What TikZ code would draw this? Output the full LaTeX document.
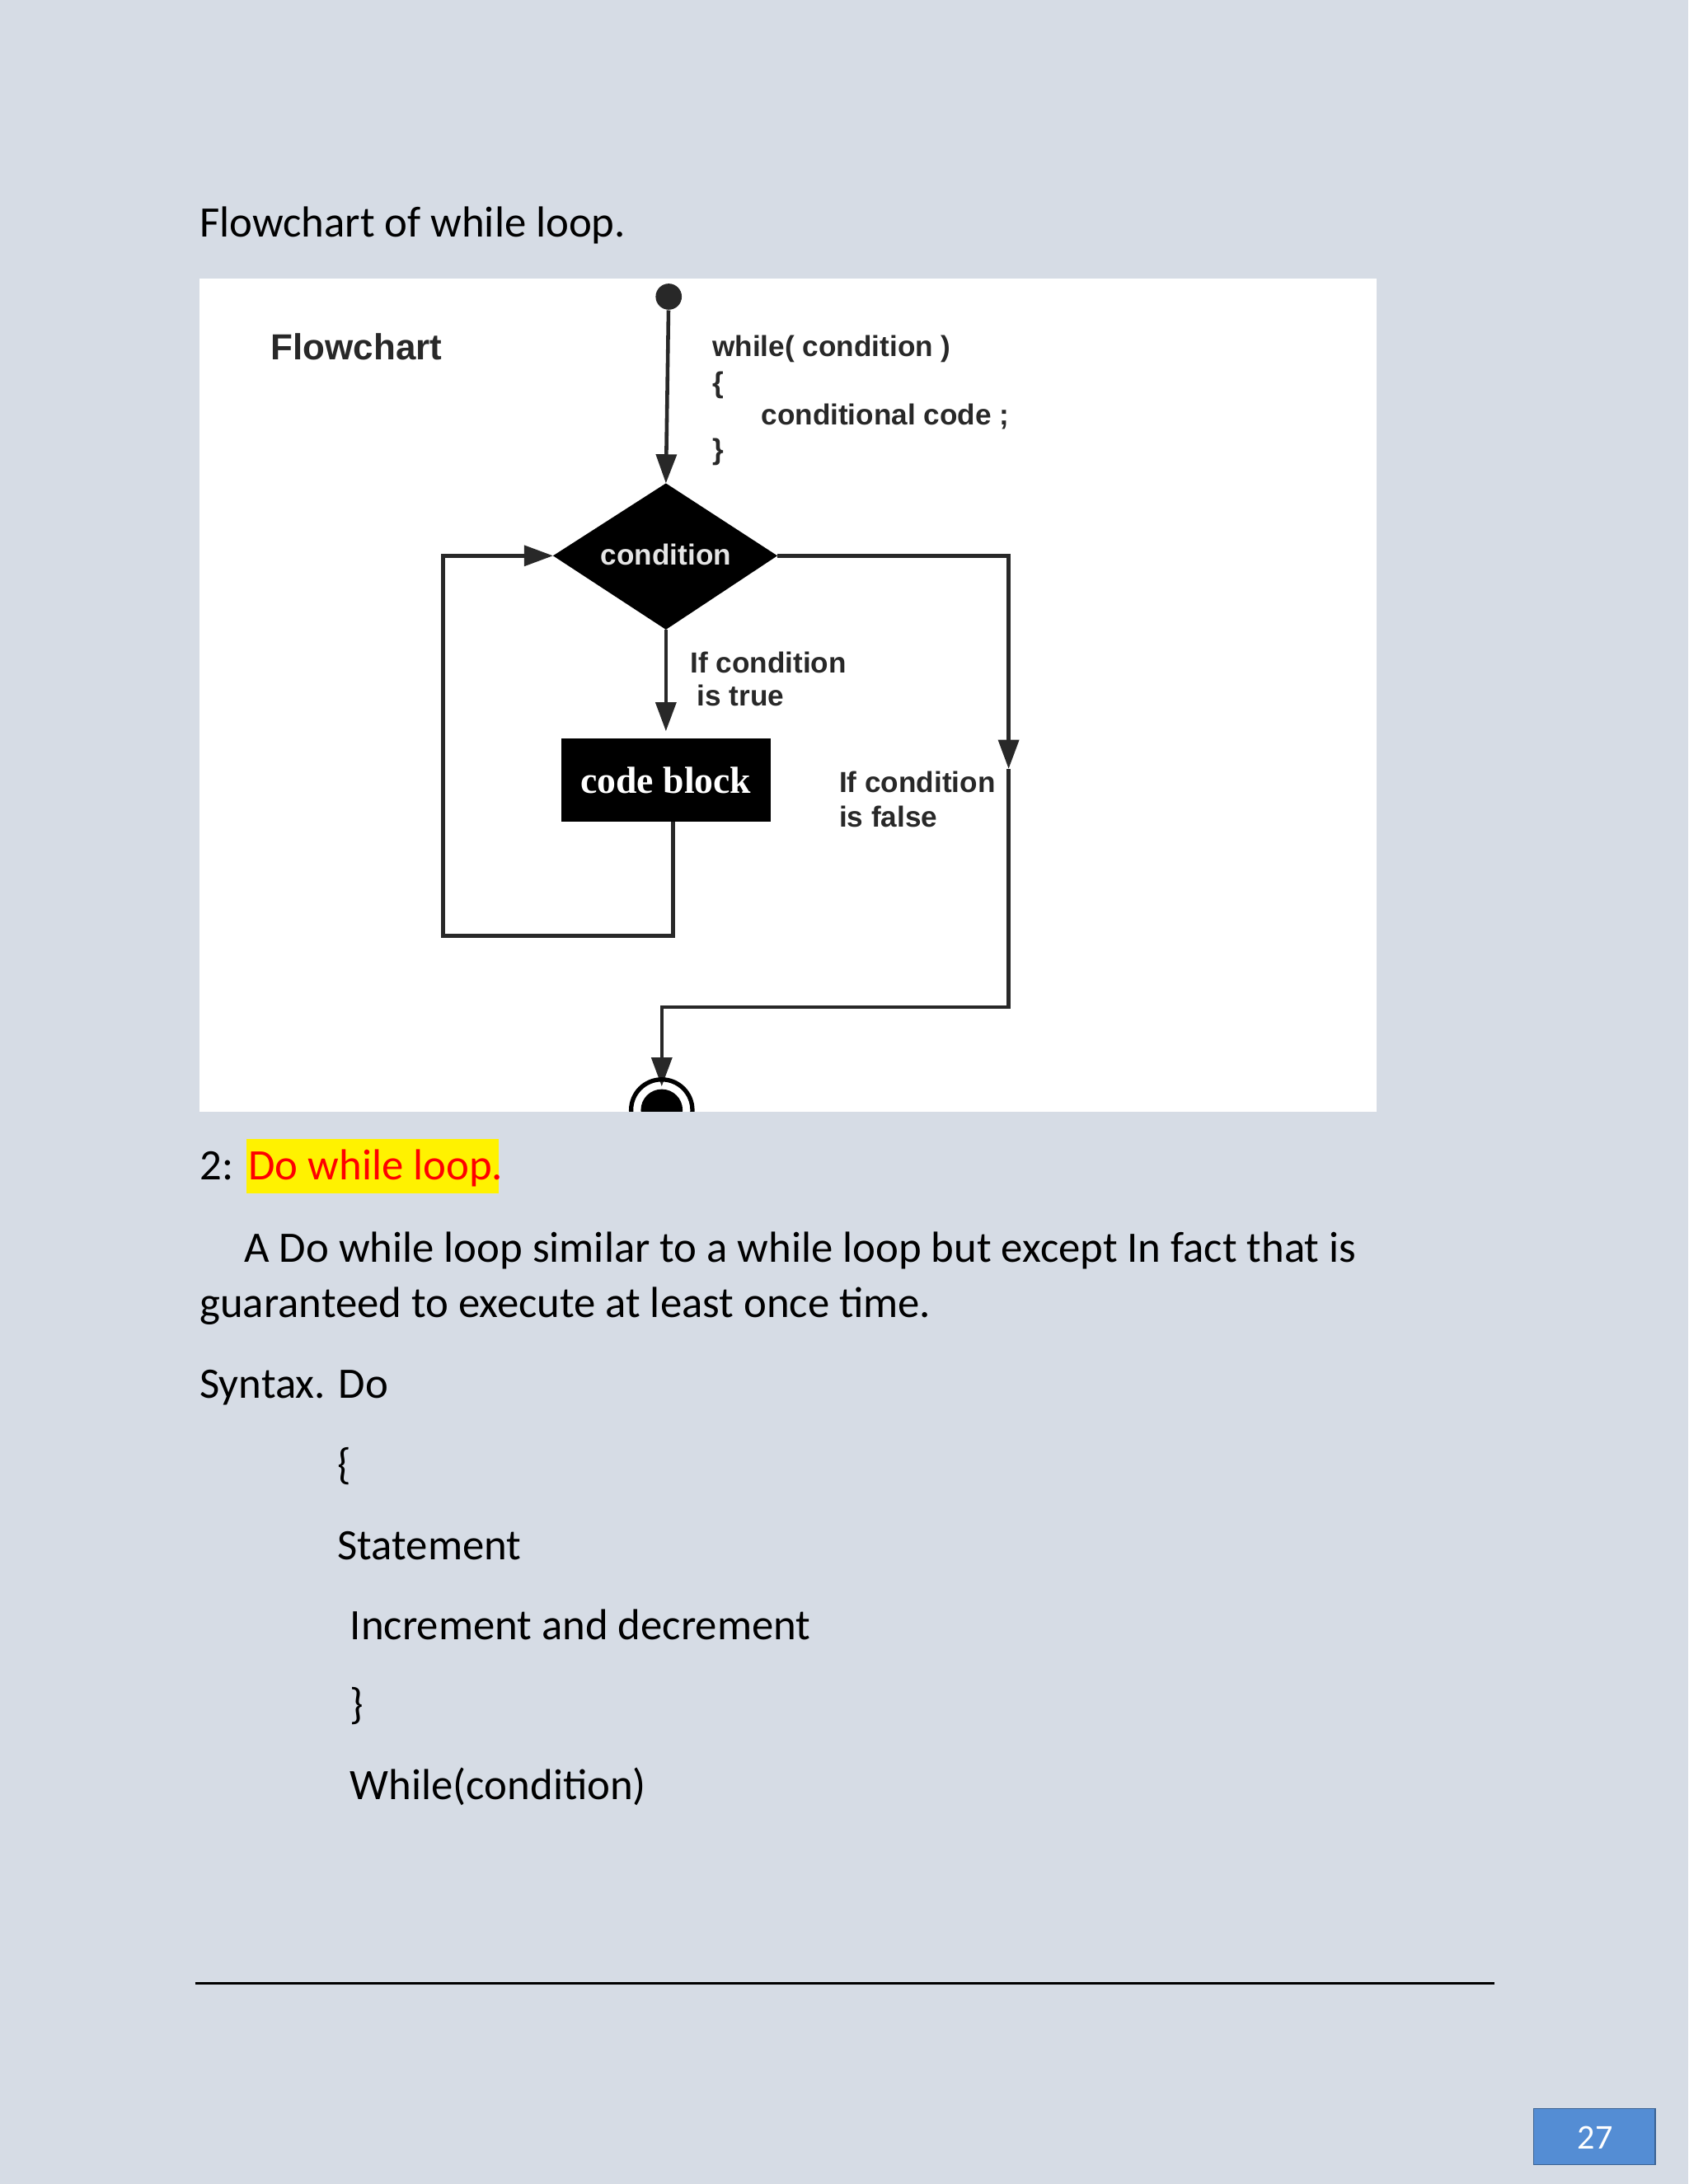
\documentclass[tikz,border=0pt]{standalone}
\usepackage{fontspec}
\setmainfont{Carlito}
\newfontfamily\arial{Liberation Sans}
\newfontfamily\narrow{Liberation Serif}
\usetikzlibrary{arrows.meta}
\definecolor{pagebg}{RGB}{214,220,229}
\definecolor{numblue}{RGB}{84,141,212}
\definecolor{flowgray}{RGB}{40,40,40}
\tikzset{
  body/.style={anchor=base west,inner sep=0pt,font=\fontsize{15}{18}\selectfont},
  fl/.style={anchor=base west,inner sep=0pt,font=\arial\bfseries\fontsize{10}{12}\selectfont,text=flowgray},
  wire/.style={draw=flowgray,line width=1.3pt},
  arr/.style={wire,-{Triangle[length=10pt,width=7pt]}}
}
\begin{document}
\begin{tikzpicture}[x=0.016898cm,y=-0.016898cm]
\fill[pagebg] (0,0) rectangle (1212,1568);
\useasboundingbox (0,0) rectangle (1212,1568);
\node[body] (t1) at (143,170) {Flowchart of while loop.};
\fill[white] (143,200) rectangle (988,798);
\begin{scope}
\clip (143,200) rectangle (988,798);
\node[fl,font=\arial\bfseries\fontsize{12.5}{14}\selectfont] (fc) at (194,258) {Flowchart};
\node[fl] (w1) at (511,256) {while( condition )};
\node[fl] (w2) at (511,282) {\{};
\node[fl] (w3) at (546,305) {conditional code ;};
\node[fl] (w4) at (511,330) {\}};
\node[fl] (l1) at (495,483) {If condition};
\node[fl] (l2) at (500,507) {is true};
\node[fl] (l3) at (602,569) {If condition};
\node[fl] (l4) at (602,594) {is false};
\node[circle,fill=flowgray,minimum size=18pt*0.5,inner sep=0pt] (start) at (480,213) {};
\path[fill=black] (478,347) -- (558,399) -- (478,452) -- (397,399) -- cycle;
\coordinate (dt) at (478,347); \coordinate (db) at (478,452);
\coordinate (dl) at (397,399); \coordinate (dr) at (558,399);
\node[text=white!80!gray,font=\arial\bfseries\fontsize{10}{12}\selectfont] (cond) at (478,398) {condition};
\node[fill=black,minimum width=150*0.016898cm,minimum height=60*0.016898cm,inner sep=0pt,text=white,font=\narrow\bfseries\fontsize{13}{15}\selectfont] (cb) at (478,560) {code block};
\draw[arr] (start) -- (dt);
\draw[arr] (db) -- (478,525);
\draw[arr] (483,590) -- (483,672) -- (318,672) -- (318,399) -- (dl);
\draw[arr] (dr) -- (724,399) -- (724,552);
\draw[arr] (724,552) -- (724,723) -- (475,723) -- (475,780);
\node[circle,draw=black,line width=1.5pt,minimum size=44*0.016898cm,inner sep=0pt] (endo) at (475,797) {};
\fill[black] (475,797) circle (15);
\end{scope}
\fill[yellow] (177,818) rectangle (358,857);
\node[body] (n2) at (143,847) {2:};
\node[body,text=red] (dw) at (178,847) {Do while loop.};
\node[body] (p1) at (175,906) {A Do while loop similar to a while loop but except In fact that is};
\node[body] (p2) at (143,946) {guaranteed to execute at least once time.};
\node[body] (s1) at (143,1004) {Syntax. Do};
\node[body] (s2) at (242,1062) {\{};
\node[body] (s3) at (242,1120) {Statement};
\node[body] (s4) at (251,1177) {Increment and decrement};
\node[body] (s5) at (251,1234) {\}};
\node[body] (s6) at (251,1292) {While(condition)};
\draw[black,line width=0.8pt] (140,1424) -- (1073,1424);
\draw[fill=numblue,draw=numblue!70!black] (1101,1514) rectangle (1188,1554);
\node[text=white,font=\fontsize{12}{14}\selectfont] (pn) at (1145,1535) {27};
\end{tikzpicture}
\end{document}
